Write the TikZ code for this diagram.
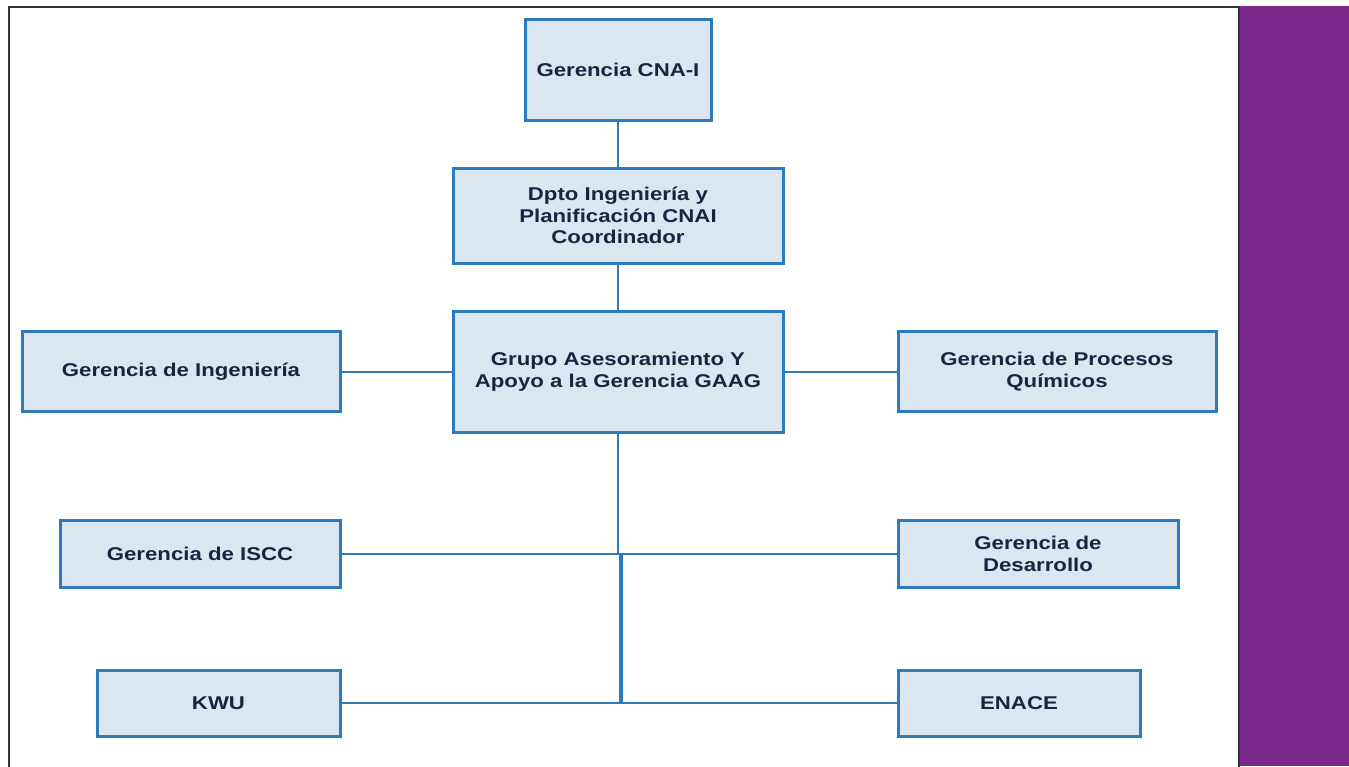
\documentclass[tikz,border=0pt]{standalone}
\usepackage{fontspec}
\setmainfont[FakeStretch=1.2]{Liberation Sans}
\definecolor{boxfill}{HTML}{DCE6F1}
\definecolor{boxline}{HTML}{2B7BBE}
\definecolor{txt}{HTML}{1A2440}
\definecolor{purp}{HTML}{7B288C}
\definecolor{frame}{HTML}{333333}
\begin{document}
\begin{tikzpicture}[x=1pt,y=-1pt,
  orgbox/.style={draw=boxline,fill=boxfill,line width=3pt,inner sep=0pt,
    align=center,text=txt,font=\fontsize{18.5}{21.8}\selectfont\bfseries},
  link/.style={draw=boxline,line width=2pt}]
\useasboundingbox (0,0) rectangle (1349,766);
\fill[white] (0,0) rectangle (1349,766);
\fill[purp] (1240,6) rectangle (1349,766);
\draw[frame,line width=2pt] (8.5,770) -- (8.5,7) -- (1239,7) -- (1239,770);
\node[orgbox,minimum width=186pt,minimum height=101pt] (cna) at (618,69.5) {Gerencia CNA-I};
\node[orgbox,minimum width=330pt,minimum height=95pt] (dpto) at (618,215.5) {Dpto Ingeniería y\\Planificación CNAI\\Coordinador};
\node[orgbox,minimum width=330pt,minimum height=121pt] (gaag) at (618,371.5) {Grupo Asesoramiento Y\\Apoyo a la Gerencia GAAG};
\node[orgbox,minimum width=318pt,minimum height=80pt] (ing) at (181,371.5) {Gerencia de Ingeniería};
\node[orgbox,minimum width=318pt,minimum height=80pt] (proc) at (1057,371.5) {Gerencia de Procesos\\Químicos};
\node[orgbox,minimum width=280pt,minimum height=67pt] (iscc) at (200,554) {Gerencia de ISCC};
\node[orgbox,minimum width=280pt,minimum height=67pt] (des) at (1038,554) {Gerencia de\\Desarrollo};
\node[orgbox,minimum width=243pt,minimum height=66pt] (kwu) at (218.5,703) {KWU};
\node[orgbox,minimum width=242pt,minimum height=66pt] (enace) at (1019,703) {ENACE};
\coordinate (j1) at (618,554);
\coordinate (j1b) at (621,554);
\coordinate (j2) at (621,703);
\draw[link] (cna.south) -- (dpto.north);
\draw[link] (dpto.south) -- (gaag.north);
\draw[link] (ing.east) -- (gaag.west);
\draw[link] (gaag.east) -- (proc.west);
\draw[link] (gaag.south) -- (j1);
\draw[link] (iscc.east) -- (des.west);
\draw[boxline,line width=3.5pt] (j1b) -- (j2);
\draw[link] (kwu.east) -- (enace.west);
\end{tikzpicture}
\end{document}
